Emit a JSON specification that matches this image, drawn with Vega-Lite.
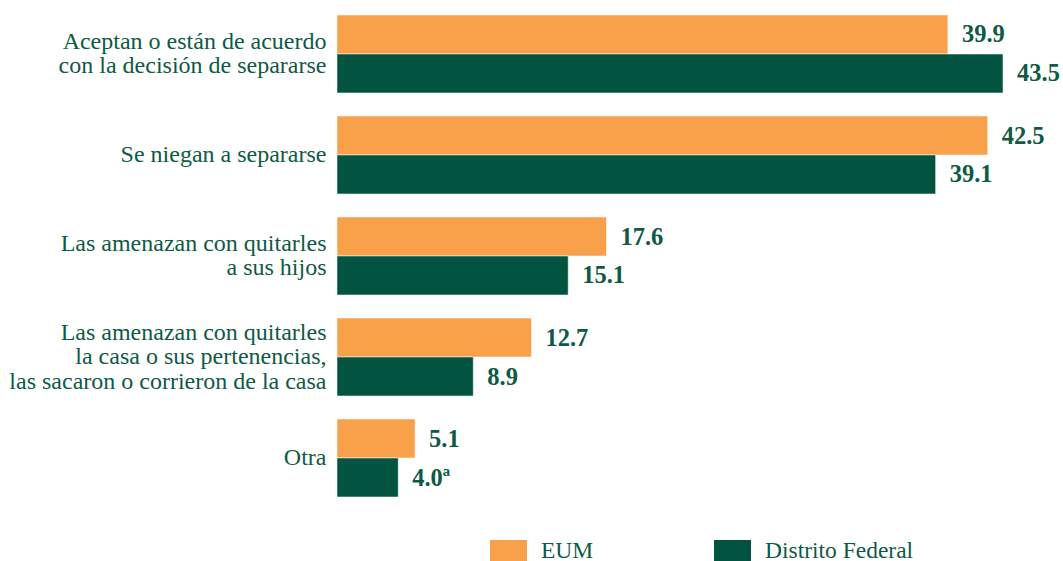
{
  "$schema": "https://vega.github.io/schema/vega-lite/v6.json",
  "width": 666,
  "height": 482,
  "autosize": {"type": "none"},
  "padding": {"left": 337, "top": 15, "right": 60, "bottom": 64},
  "background": "white",
  "config": {
    "view": {"stroke": null},
    "font": "'Liberation Serif', 'Times New Roman', Times, serif",
    "axis": {"labelFont": "'Liberation Serif', 'Times New Roman', Times, serif"},
    "legend": {"labelFont": "'Liberation Serif', 'Times New Roman', Times, serif"}
  },
  "data": {
    "values": [
      {"categoria": "Aceptan o están de acuerdo|con la decisión de separarse", "serie": "EUM", "valor": 39.9, "etiqueta": "39.9"},
      {"categoria": "Aceptan o están de acuerdo|con la decisión de separarse", "serie": "Distrito Federal", "valor": 43.5, "etiqueta": "43.5"},
      {"categoria": "Se niegan a separarse", "serie": "EUM", "valor": 42.5, "etiqueta": "42.5"},
      {"categoria": "Se niegan a separarse", "serie": "Distrito Federal", "valor": 39.1, "etiqueta": "39.1"},
      {"categoria": "Las amenazan con quitarles|a sus hijos", "serie": "EUM", "valor": 17.6, "etiqueta": "17.6"},
      {"categoria": "Las amenazan con quitarles|a sus hijos", "serie": "Distrito Federal", "valor": 15.1, "etiqueta": "15.1"},
      {"categoria": "Las amenazan con quitarles|la casa o sus pertenencias,|las sacaron o corrieron de la casa", "serie": "EUM", "valor": 12.7, "etiqueta": "12.7"},
      {"categoria": "Las amenazan con quitarles|la casa o sus pertenencias,|las sacaron o corrieron de la casa", "serie": "Distrito Federal", "valor": 8.9, "etiqueta": "8.9"},
      {"categoria": "Otra", "serie": "EUM", "valor": 5.1, "etiqueta": "5.1"},
      {"categoria": "Otra", "serie": "Distrito Federal", "valor": 4.0, "etiqueta": "4.0ª"}
    ]
  },
  "encoding": {
    "y": {
      "field": "categoria",
      "type": "nominal",
      "sort": null,
      "scale": {"paddingInner": 0.228, "paddingOuter": 0},
      "axis": {
        "title": null,
        "domain": false,
        "ticks": false,
        "labelPadding": 11,
        "labelFont": "'Liberation Serif', 'Times New Roman', Times, serif",
        "labelFontSize": 24,
        "labelColor": "#0E5A45",
        "labelLineHeight": 24.5,
        "labelLimit": 400,
        "labelOffset": {
          "condition": [
            {"test": "length(split(datum.value, '|')) == 3", "value": -24.5},
            {"test": "length(split(datum.value, '|')) == 2", "value": -12.25}
          ],
          "value": 0
        },
        "labelExpr": "split(datum.value, '|')"
      }
    },
    "yOffset": {
      "field": "serie",
      "type": "nominal",
      "sort": ["EUM", "Distrito Federal"],
      "scale": {"paddingInner": 0, "paddingOuter": 0}
    },
    "x": {
      "field": "valor",
      "type": "quantitative",
      "scale": {"domain": [0, 43.5], "nice": false, "zero": true},
      "axis": null
    }
  },
  "layer": [
    {
      "mark": {"type": "bar", "stroke": "white", "strokeWidth": 0.5},
      "encoding": {
        "color": {
          "field": "serie",
          "type": "nominal",
          "sort": ["EUM", "Distrito Federal"],
          "scale": {"domain": ["EUM", "Distrito Federal"], "range": ["#F9A04B", "#025441"]},
          "legend": {
            "title": null,
            "orient": "none",
            "direction": "horizontal",
            "legendX": 153,
            "legendY": 517,
            "symbolType": "M-1,-0.57H1V0.57H-1Z",
            "symbolSize": 1369,
            "symbolStrokeWidth": 0,
            "labelFont": "'Liberation Serif', 'Times New Roman', Times, serif",
            "labelFontSize": 23.5,
            "labelColor": "#0E5A45",
            "labelOffset": 14,
            "columnPadding": 120,
            "symbolOpacity": 1
          }
        }
      }
    },
    {
      "mark": {
        "type": "text",
        "align": "left",
        "baseline": "middle",
        "dx": 14,
        "dy": 1,
        "font": "'Liberation Serif', 'Times New Roman', Times, serif",
        "fontWeight": "bold",
        "fontSize": 24.5,
        "color": "#0E5A45"
      },
      "encoding": {
        "text": {"field": "etiqueta"}
      }
    }
  ]
}
